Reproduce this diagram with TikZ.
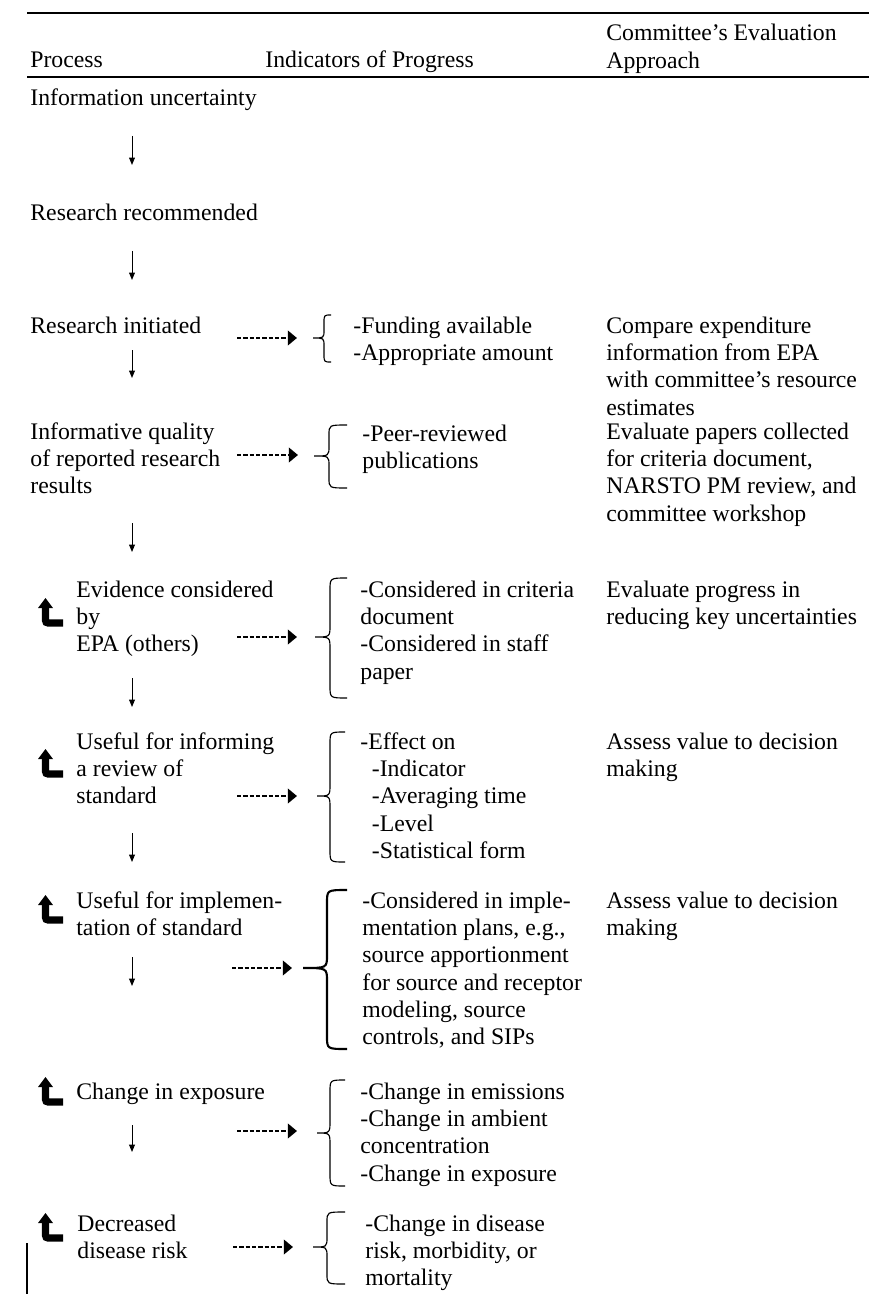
\documentclass[tikz,border=0pt]{standalone}
\usepackage{fontspec}
\setmainfont{Liberation Serif}
\usetikzlibrary{arrows.meta}

% left curly brace: style, tip x, spine x, end x, top y, middle y, bottom y, corner size
\newcommand\drawbrace[8]{%
  \draw[#1] (#4,#5) .. controls (#3,#5) .. (#3,#5+#8) -- (#3,#6-#8)
    .. controls (#3,#6) .. (#2,#6) .. controls (#3,#6) .. (#3,#6+#8)
    -- (#3,#7-#8) .. controls (#3,#7) .. (#4,#7);}

\tikzset{
  txt/.style={anchor=base west, inner sep=0pt, align=left,
              font=\fontsize{12.35pt}{14.15pt}\selectfont},
  % a multi-line node sits on its last baseline: place it by its first one
  nl/.style={yshift={-(#1-1)*14.15pt}},
  rule/.style={line width=1.5pt},
  flow/.style={line width=0.5pt, -{Triangle[length=3.8pt,width=3pt]}},
  lead/.style={line width=1.3pt, dash pattern=on 2.2pt off 1.1pt,
               -{Triangle[length=4.8pt,width=7.6pt]}},
  brc/.style={line width=0.6pt},
  brcthick/.style={line width=1.1pt},
  bentup/.pic={
    \fill (0,10) -- (7.5,0) -- (15,10) -- cycle;
    \draw[line width=3.8pt, line cap=butt]
      (7.5,9) -- (7.5,19) .. controls (7.5,25) .. (13.5,25) -- (25,25);
  }
}

\begin{document}
\begin{tikzpicture}[x=0.52pt, y=-0.52pt]
\useasboundingbox (0,0) rectangle (869,1294);

% table rules
\draw[rule] (27,13) -- (869,13);
\draw[rule] (27,77) -- (869,77);
\draw[line width=0.6pt] (27,1243) -- (27,1294);

% column headings
\node[txt] (hproc) at (30,68) {Process};
\node[txt] (hind)  at (265,68) {Indicators of Progress};
\node[txt,nl=2] (heval) at (606,41) {Committee's Evaluation\\Approach};

% process column
\node[txt] (p0) at (30,105.5) {Information uncertainty};
\node[txt] (p1) at (30,220.5) {Research recommended};
\node[txt] (p2) at (30,333.5) {Research initiated};
\node[txt,nl=3] (p3) at (30,439.5) {Informative quality\\of reported research\\results};
\node[txt,nl=3] (p4) at (76,597.5) {Evidence considered\\by\\EPA (others)};
\node[txt,nl=3] (p5) at (76,749.5) {Useful for informing\\a review of\\standard};
\node[txt,nl=2] (p6) at (76,908.5) {Useful for implemen-\\tation of standard};
\node[txt] (p7) at (76,1099.5) {Change in exposure};
\node[txt,nl=2] (p8) at (77,1231.5) {Decreased\\disease risk};

% feedback marks
\pic at (38,598) {bentup};
\pic at (38,749) {bentup};
\pic at (38,895) {bentup};
\pic at (38,1077) {bentup};
\pic at (38,1213) {bentup};

% downward flow
\foreach \i/\a/\b in {1/136/165, 2/251/280, 3/350/378, 4/523/552,
                      5/678/707, 6/833/862, 7/957/986, 8/1125/1152} {
  \coordinate (u\i) at (132,\a);
  \coordinate (v\i) at (132,\b);
  \draw[flow] (u\i) -- (v\i);
}

% indicators of progress
\node[txt,nl=2] (i2) at (353,333.5) {-Funding available\\-Appropriate amount};
\node[txt,nl=2] (i3) at (362,441.5) {-Peer-reviewed\\publications};
\node[txt,nl=4] (i4) at (360,597.5) {-Considered in criteria\\document\\-Considered in staff\\paper};
\node[txt,nl=5] (i5) at (360,749.5) {-Effect on\\\hspace*{6pt}-Indicator\\\hspace*{6pt}-Averaging time\\\hspace*{6pt}-Level\\\hspace*{6pt}-Statistical form};
\node[txt,nl=6] (i6) at (362,908.5) {-Considered in imple-\\mentation plans, e.g.,\\source apportionment\\for source and receptor\\modeling, source\\controls, and SIPs};
\node[txt,nl=4] (i7) at (360,1099.5) {-Change in emissions\\-Change in ambient\\concentration\\-Change in exposure};
\node[txt,nl=3] (i8) at (365,1231.5) {-Change in disease\\risk, morbidity, or\\mortality};

% braces
\drawbrace{brc}{313}{324}{331}{315}{338}{362}{8}
\drawbrace{brc}{314}{329}{347}{425}{456}{488}{10}
\drawbrace{brc}{315}{330}{347}{578}{637}{698}{12}
\drawbrace{brc}{317}{330}{345}{732}{796}{862}{12}
\drawbrace{brcthick}{303}{327}{347}{890}{968}{1049}{13}
\drawbrace{brc}{317}{330}{345}{1080}{1133}{1186}{12}
\drawbrace{brc}{313}{327}{345}{1212}{1247}{1284}{10}

% dotted leaders to the indicator braces
\foreach \i/\xa/\xb/\y in {2/237/297/338, 3/237/298/455, 4/237/297/637,
                           5/237/297/796, 6/232/292/968, 7/237/297/1131,
                           8/233/293/1247} {
  \coordinate (s\i) at (\xa,\y);
  \coordinate (t\i) at (\xb,\y);
  \draw[lead] (s\i) -- (t\i);
}

% committee's evaluation approach
\node[txt,nl=4] (c2) at (606,333.5) {Compare expenditure\\information from EPA\\with committee's resource\\estimates};
\node[txt,nl=4] (c3) at (606,439.5) {Evaluate papers collected\\for criteria document,\\NARSTO PM review, and\\committee workshop};
\node[txt,nl=2] (c4) at (606,597.5) {Evaluate progress in\\reducing key uncertainties};
\node[txt,nl=2] (c5) at (606,749.5) {Assess value to decision\\making};
\node[txt,nl=2] (c6) at (606,908.5) {Assess value to decision\\making};
\end{tikzpicture}
\end{document}
